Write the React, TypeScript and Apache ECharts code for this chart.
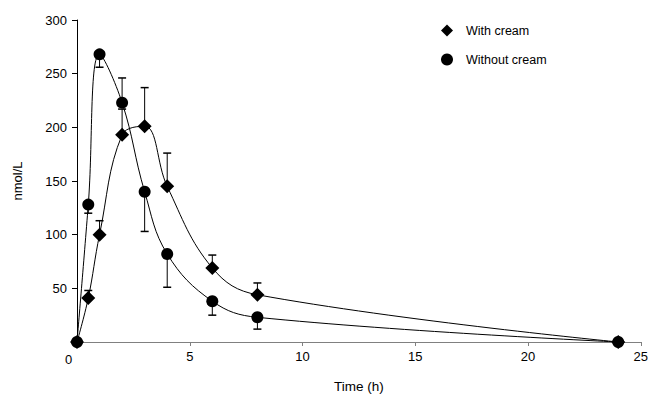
import React, { useEffect, useRef } from "react";
import * as echarts from "echarts";

const timeHours = [0, 0.5, 1, 2, 3, 4, 6, 8, 24];
const withCream = [0, 41, 100, 193, 201, 145, 69, 44, 0];
const withCreamErrEnd = [null, 48, 113, 217, 237, 176, 81, 55, null];
const withoutCream = [0, 128, 268, 223, 140, 82, 38, 23, 0];
const withoutCreamErrEnd = [null, 120, 256, 246, 103, 51, 25, 12, null];
const seriesNames = ["With cream", "Without cream"];
const xTicks = [0, 5, 10, 15, 20, 25];
const yTicks = [50, 100, 150, 200, 250, 300];

const FONT = "'Liberation Sans', Arial, sans-serif";

export default function App() {
  const ref = useRef<HTMLDivElement>(null);
  useEffect(() => {
    document.body.style.margin = "0";
    if (!ref.current) return;
    const chart = echarts.init(ref.current, null, { renderer: "svg" });

    const pts = (ys: number[]) => timeHours.map((t, i) => [t, ys[i]]);
    const errData = (ys: number[], ends: (number | null)[]) =>
      timeHours
        .map((t, i) => (ends[i] == null ? null : [t, ys[i], ends[i]]))
        .filter((d) => d !== null);

    const renderErr = (params: any, api: any) => {
      const x = api.value(0);
      const p0 = api.coord([x, api.value(1)]);
      const p1 = api.coord([x, api.value(2)]);
      const cap = 4;
      return {
        type: "group",
        children: [
          {
            type: "line",
            shape: { x1: p0[0], y1: p0[1], x2: p1[0], y2: p1[1] },
            style: { stroke: "#000", lineWidth: 1 },
          },
          {
            type: "line",
            shape: { x1: p1[0] - cap, y1: p1[1], x2: p1[0] + cap, y2: p1[1] },
            style: { stroke: "#000", lineWidth: 1.5 },
          },
        ],
      };
    };

    chart.setOption({
      animation: false,
      backgroundColor: "#fff",
      textStyle: { fontFamily: FONT },
      grid: { left: 77, right: 9, top: 20, bottom: 52, containLabel: false },
      legend: {
        orient: "vertical",
        left: 436,
        top: 19,
        itemWidth: 12,
        itemHeight: 12,
        itemGap: 16,
        textStyle: {
          fontFamily: FONT,
          fontSize: 12.5,
          color: "#000",
          padding: [0, 0, 0, 8],
        },
        data: [
          { name: seriesNames[0], icon: "diamond" },
          { name: seriesNames[1], icon: "circle" },
        ],
      },
      xAxis: {
        type: "value",
        min: xTicks[0],
        max: xTicks[xTicks.length - 1],
        interval: 5,
        name: "Time (h)",
        nameLocation: "middle",
        nameGap: 37,
        nameTextStyle: { fontFamily: FONT, fontSize: 13.5, color: "#000" },
        axisLine: { lineStyle: { color: "#808080", width: 1 } },
        axisTick: { show: true, length: 4, lineStyle: { color: "#808080" } },
        splitLine: { show: false },
        axisLabel: {
          showMinLabel: false,
          fontFamily: FONT,
          fontSize: 13,
          color: "#000",
          margin: 8,
        },
      },
      yAxis: {
        type: "value",
        min: 0,
        max: yTicks[yTicks.length - 1],
        interval: 50,
        name: "nmol/L",
        nameLocation: "middle",
        nameGap: 53,
        nameTextStyle: { fontFamily: FONT, fontSize: 13, color: "#000" },
        axisLine: { show: true, lineStyle: { color: "#000", width: 1 } },
        axisTick: { show: true, length: 5, lineStyle: { color: "#000" } },
        splitLine: { show: false },
        axisLabel: {
          showMinLabel: false,
          fontFamily: FONT,
          fontSize: 13,
          color: "#000",
          margin: 10,
        },
      },
      graphic: [
        {
          type: "text",
          left: 65,
          top: 353,
          style: { text: "0", font: `13px ${FONT}`, fill: "#000" },
        },
      ],
      series: [
        {
          name: seriesNames[0],
          type: "line",
          data: pts(withCream),
          smooth: 0.4,
          symbol: "diamond",
          symbolSize: 14,
          showAllSymbol: true,
          lineStyle: { color: "#000", width: 1 },
          itemStyle: { color: "#000" },
          z: 3,
        },
        {
          name: seriesNames[1],
          type: "line",
          data: pts(withoutCream),
          smooth: 0.4,
          symbol: "circle",
          symbolSize: 12,
          showAllSymbol: true,
          lineStyle: { color: "#000", width: 1 },
          itemStyle: { color: "#000" },
          z: 2,
        },
        {
          name: seriesNames[0] + " error",
          type: "custom",
          renderItem: renderErr,
          data: errData(withCream, withCreamErrEnd),
          z: 1,
          silent: true,
        },
        {
          name: seriesNames[1] + " error",
          type: "custom",
          renderItem: renderErr,
          data: errData(withoutCream, withoutCreamErrEnd),
          z: 1,
          silent: true,
        },
      ],
    });
    return () => chart.dispose();
  }, []);
  return <div ref={ref} style={{ width: 651, height: 398 }} />;
}
